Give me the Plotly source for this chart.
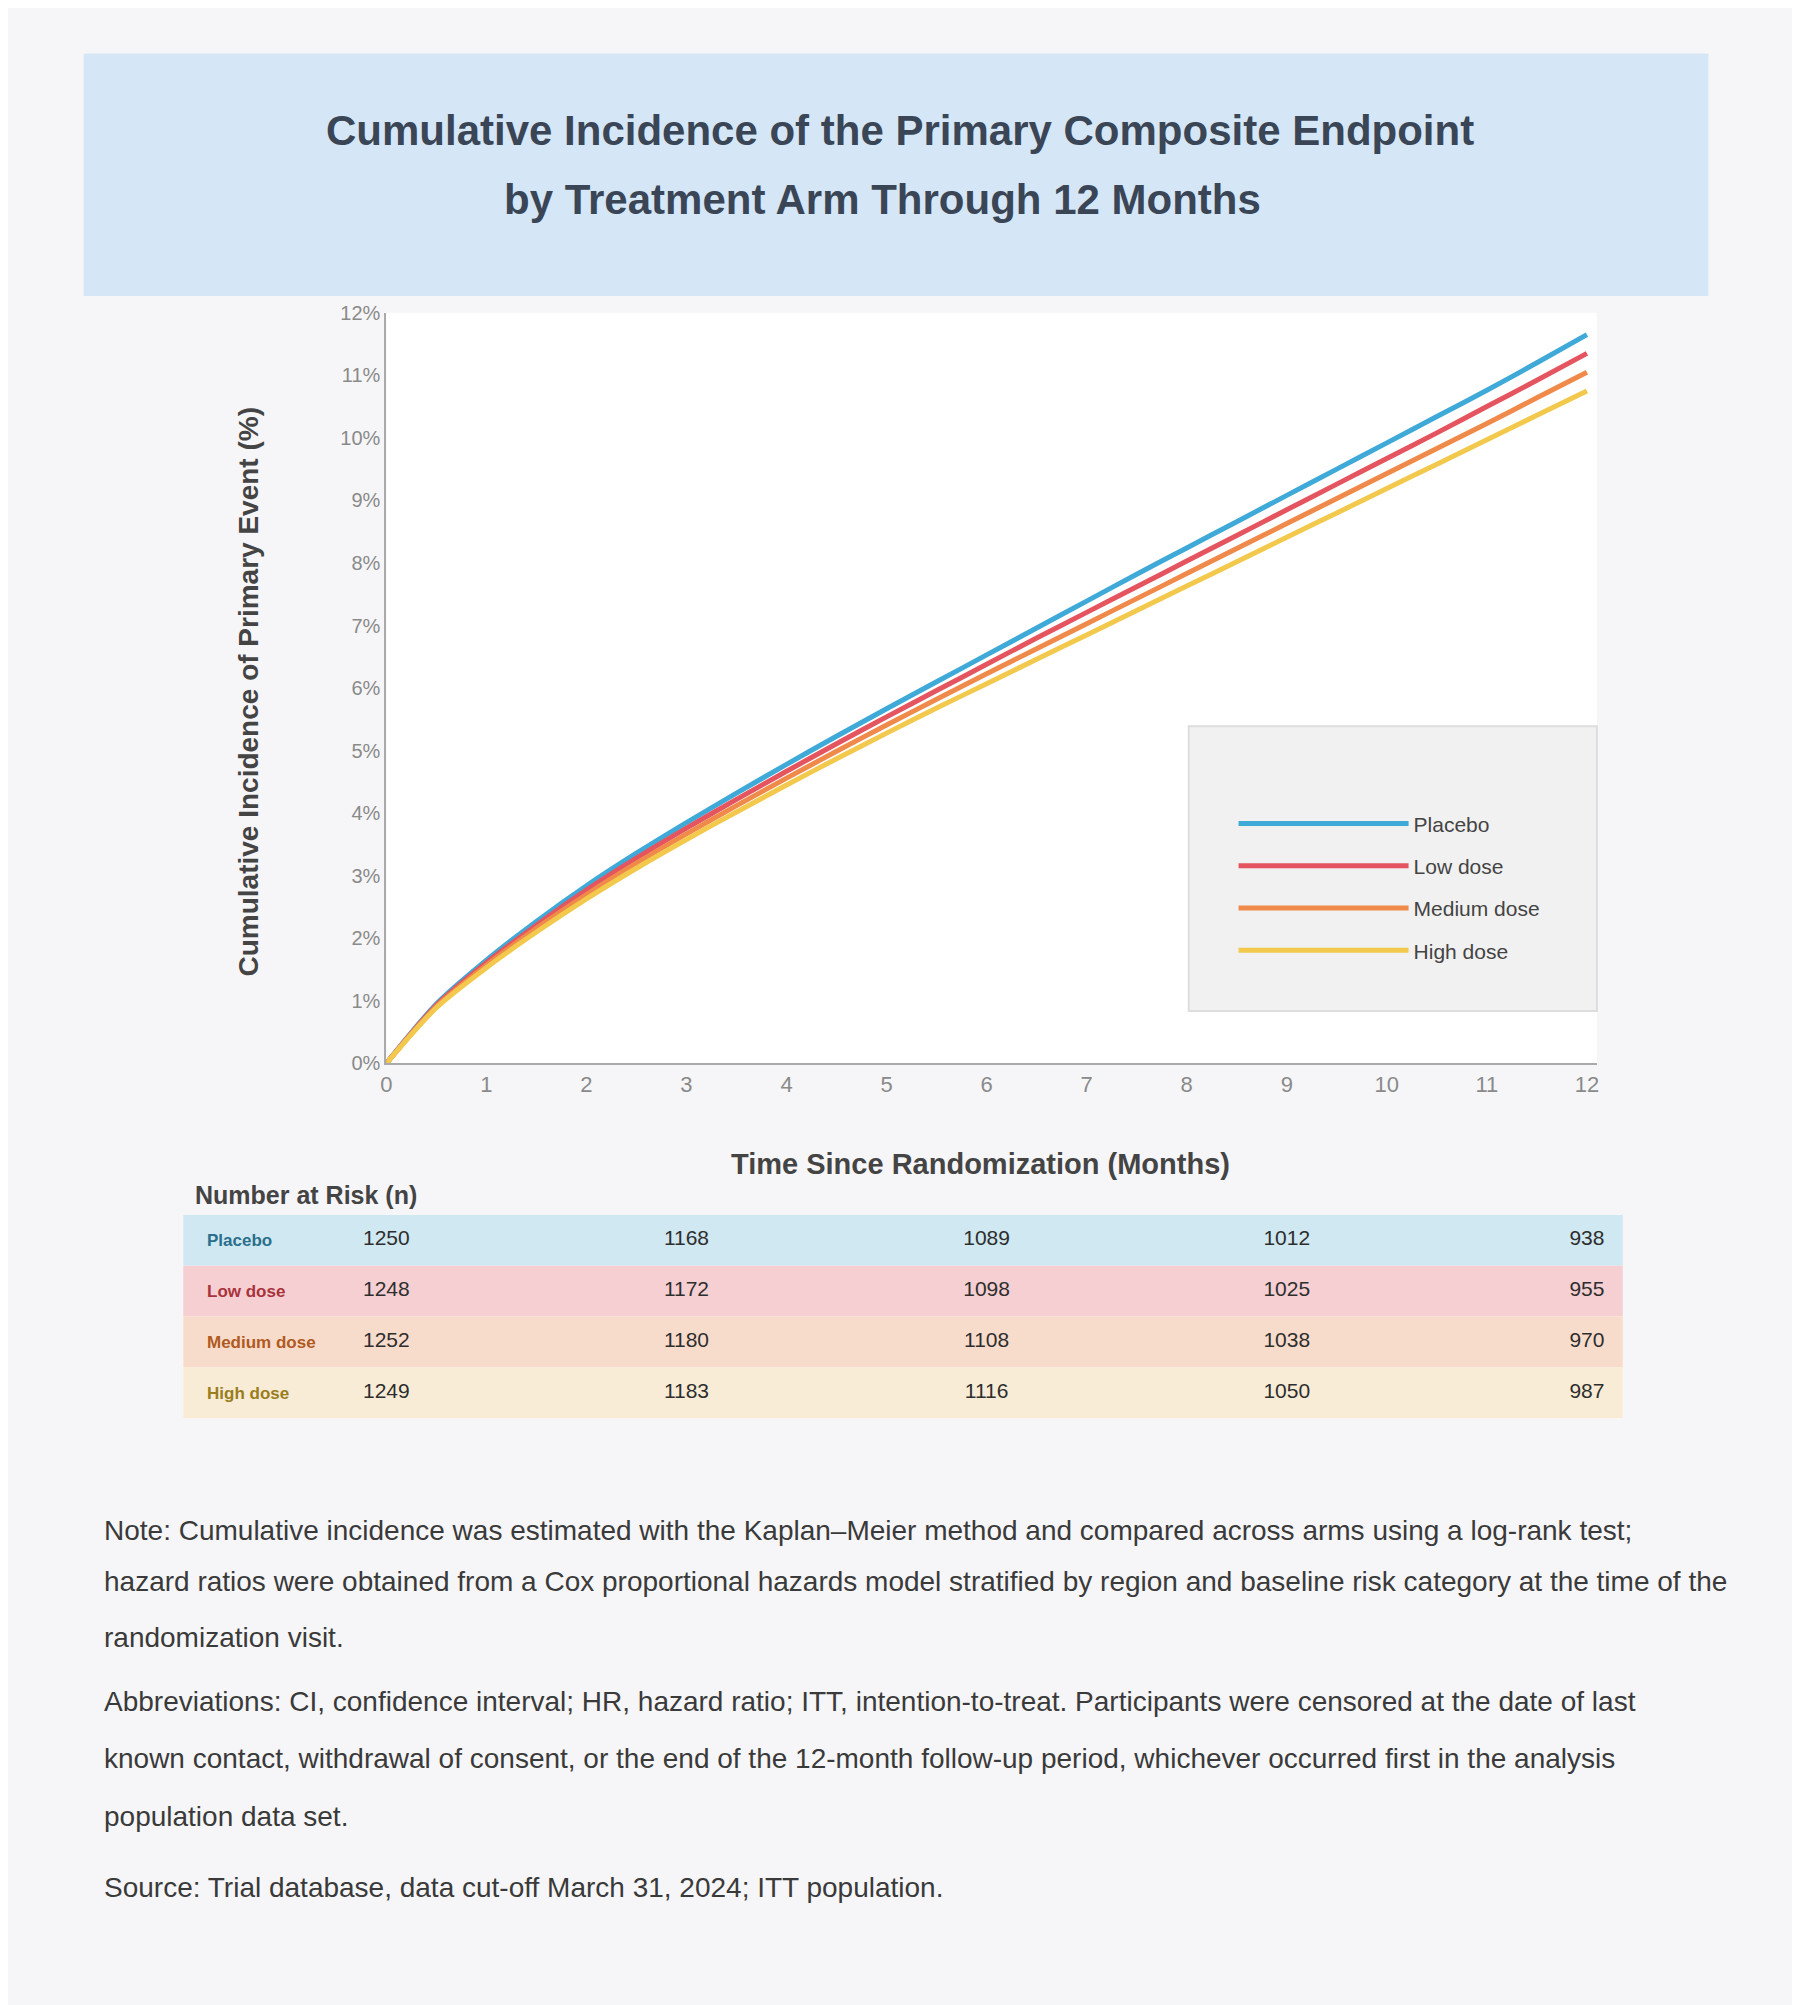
import plotly.graph_objects as go

W, H = 1800, 2005

def px(x):
    return x / W

def py(y):
    return 1 - y / H

# ---------------- data ----------------
months = [0, 0.5, 1, 1.5, 2, 2.5, 3, 3.5, 4, 4.5, 5, 5.5, 6, 6.5, 7, 7.5, 8,
          8.5, 9, 9.5, 10, 10.5, 11, 11.5, 12]
placebo = [0, 0.95, 1.65, 2.27, 2.84, 3.36, 3.85, 4.32, 4.78, 5.23, 5.67, 6.1, 6.53,
           6.96, 7.39, 7.82, 8.24, 8.66, 9.08, 9.5, 9.92, 10.34, 10.76, 11.2, 11.65]
low_dose = [0, 0.93, 1.61, 2.21, 2.77, 3.28, 3.76, 4.22, 4.67, 5.11, 5.54, 5.96, 6.38,
            6.8, 7.21, 7.62, 8.03, 8.44, 8.85, 9.26, 9.67, 10.08, 10.5, 10.92, 11.35]
medium_dose = [0, 0.91, 1.57, 2.16, 2.7, 3.2, 3.67, 4.12, 4.56, 4.99, 5.41, 5.82, 6.23,
               6.63, 7.03, 7.43, 7.83, 8.23, 8.63, 9.03, 9.43, 9.83, 10.23, 10.64, 11.05]
high_dose = [0, 0.89, 1.53, 2.1, 2.63, 3.12, 3.58, 4.02, 4.45, 4.87, 5.28, 5.68, 6.07,
             6.46, 6.85, 7.24, 7.63, 8.02, 8.41, 8.8, 9.19, 9.58, 9.97, 10.36, 10.75]

groups = ["Placebo", "Low dose", "Medium dose", "High dose"]
series = [placebo, low_dose, medium_dose, high_dose]

risk_times = [0, 3, 6, 9, 12]
risk_placebo = [1250, 1168, 1089, 1012, 938]
risk_low = [1248, 1172, 1098, 1025, 955]
risk_medium = [1252, 1180, 1108, 1038, 970]
risk_high = [1249, 1183, 1116, 1050, 987]
risk_rows = [risk_placebo, risk_low, risk_medium, risk_high]

x_ticks = list(range(0, 13))
y_ticks = list(range(0, 13))
y_tick_labels = [f"{v}%" for v in y_ticks]

title_lines = ["Cumulative Incidence of the Primary Composite Endpoint",
               "by Treatment Arm Through 12 Months"]
x_title = "Time Since Randomization (Months)"
y_title = "Cumulative Incidence of Primary Event (%)"
table_title = "Number at Risk (n)"
footnotes = [
    "Note: Cumulative incidence was estimated with the Kaplan–Meier method and compared across arms using a log-rank test;",
    "hazard ratios were obtained from a Cox proportional hazards model stratified by region and baseline risk category at the time of the",
    "randomization visit.",
    "Abbreviations: CI, confidence interval; HR, hazard ratio; ITT, intention-to-treat. Participants were censored at the date of last",
    "known contact, withdrawal of consent, or the end of the 12-month follow-up period, whichever occurred first in the analysis",
    "population data set.",
    "Source: Trial database, data cut-off March 31, 2024; ITT population.",
]

# ---------------- styles ----------------
line_colors = ["#3fa9d8", "#e4555f", "#f08a4b", "#f2c94c"]
row_colors = ["#cfe8f1", "#f5cfd2", "#f8dccb", "#f8ecd6"]
label_colors = ["#2a6f8c", "#a8333c", "#b05a22", "#9a7d1c"]
FONT = "Liberation Sans, Arial, sans-serif"

# plot geometry (figure pixels)
PX0, PX1 = 374, 1590
PY0, PY1 = 297, 1056
X_MAX = 12.1
UNIT = (PX1 - PX0) / X_MAX
TX0, TX1 = 170, 1616
TY0, TY1 = 1209, 1415

fig = go.Figure()

for name, vals, col in zip(groups, series, line_colors):
    fig.add_trace(go.Scatter(
        x=months, y=vals, mode="lines", name=name,
        line=dict(color=col, width=5, shape="spline", smoothing=0.8),
        legendgroup=name, xaxis="x", yaxis="y",
    ))

for i, (name, counts) in enumerate(zip(groups, risk_rows)):
    fig.add_trace(go.Scatter(
        x=risk_times, y=[i] * len(risk_times), text=[str(c) for c in counts],
        mode="text", textfont=dict(size=21, color="#2e2e2e", family=FONT),
        showlegend=False, xaxis="x2", yaxis="y2", hoverinfo="skip",
    ))

shapes = []
shapes.append(dict(type="rect", xref="paper", yref="paper",
                   x0=px(70), x1=px(1702), y0=py(280), y1=py(35),
                   fillcolor="#d5e6f6", line=dict(width=0), layer="below"))
shapes.append(dict(type="rect", xref="paper", yref="paper",
                   x0=px(1180), x1=px(1590), y0=py(1003), y1=py(715),
                   fillcolor="#f1f1f1", line=dict(color="#dddddd", width=2), layer="below"))
for i, c in enumerate(row_colors):
    shapes.append(dict(type="rect", xref="x2 domain", yref="y2",
                       x0=0, x1=1, y0=i - 0.5, y1=i + 0.5,
                       fillcolor=c, line=dict(width=0), layer="below"))

def ann(text, x, y, size, color="#444444", xanchor="center", **kw):
    return dict(text=text, x=x, y=y, xref="paper", yref="paper", showarrow=False,
                xanchor=xanchor, yanchor="middle",
                font=dict(size=size, color=color, family=FONT), **kw)

annotations = [
    ann(f"<b>{title_lines[0]}</b>", px(890), py(113), 42, "#3a4656"),
    ann(f"<b>{title_lines[1]}</b>", px(872), py(182), 42, "#3a4656"),
    ann(f"<b>{x_title}</b>", px(971), py(1158), 29),
    ann(f"<b>{y_title}</b>", px(236), py(680), 28, textangle=-90),
    ann(f"<b>{table_title}</b>", px(180), py(1189), 25, xanchor="left"),
]
for i, name in enumerate(groups):
    annotations.append(dict(text=f"<b>{name}</b>", x=(192 - PX0) / UNIT, y=i,
                            xref="x2", yref="y2", showarrow=False,
                            xanchor="left", yanchor="middle",
                            font=dict(size=17, color=label_colors[i], family=FONT)))
foot_y = [1528, 1580, 1636, 1701, 1759, 1817, 1889]
for t, yy in zip(footnotes, foot_y):
    annotations.append(ann(t, px(88), py(yy), 28, "#3a3a3a", xanchor="left"))

fig.update_layout(
    width=W, height=H, autosize=False,
    margin=dict(l=0, r=0, t=0, b=0),
    paper_bgcolor="#f6f6f8", plot_bgcolor="#ffffff",
    font=dict(family=FONT),
    showlegend=True,
    legend=dict(x=px(1225), y=py(793), xanchor="left", yanchor="top",
                bgcolor="rgba(0,0,0,0)", itemwidth=170, tracegroupgap=12,
                font=dict(size=21, color="#444444", family=FONT)),
    xaxis=dict(domain=[px(PX0), px(PX1)], range=[0, X_MAX], tickvals=x_ticks,
               showgrid=False, zeroline=False, showline=True, linecolor="#aaaaaa",
               linewidth=2, ticks="", tickfont=dict(size=22, color="#8a8a8a"),
               anchor="y"),
    yaxis=dict(domain=[py(PY1), py(PY0)], range=[0, 12], tickvals=y_ticks,
               ticktext=y_tick_labels, showgrid=False, zeroline=False, showline=True,
               linecolor="#aaaaaa", linewidth=2, ticks="",
               tickfont=dict(size=20, color="#8a8a8a"), anchor="x"),
    xaxis2=dict(domain=[px(TX0), px(TX1)],
                range=[(TX0 - PX0) / UNIT, (TX1 - PX0) / UNIT], visible=False,
                anchor="y2"),
    yaxis2=dict(domain=[py(TY1), py(TY0)], range=[3.5, -0.5], visible=False,
                anchor="x2"),
    shapes=shapes, annotations=annotations,
)

fig.write_html("out.html")
